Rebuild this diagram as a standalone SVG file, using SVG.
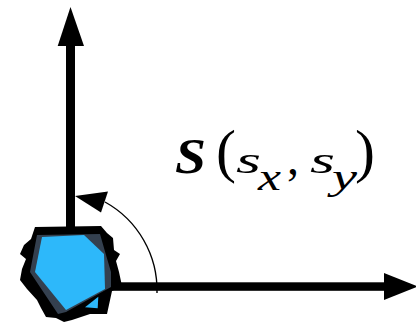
<svg xmlns="http://www.w3.org/2000/svg" width="416" height="322" viewBox="0 0 416 322">
<style>
.ax{fill:#000;stroke:none}
.it{font-family:"Liberation Serif",serif;font-style:italic;fill:#000}
.rm{font-family:"Liberation Serif",serif;fill:#000}
</style>
<rect width="416" height="322" fill="#fff"/>
<g id="axes">
<rect class="ax" x="66" y="44" width="9" height="190"/>
<polygon class="ax" points="70.5,7 57.7,46 84,46"/>
<rect class="ax" x="112" y="282.3" width="274" height="8.5"/>
<polygon class="ax" points="418,286.5 384,273 384,300"/>
</g>
<g id="body">
<polygon fill="#000" points="35,227 101,226 107,233 113,238 114,250 120,254 116,261 119,272 122,286 112,291 107,314 90,314 72,320 64,322 56,318 46,317 41,308 37,300 27,289 20,280 22,269 26,259 20,254 24,245 31,239"/>
<polygon fill="#34404f" points="37,235 100,234 106,255 111,272 111,287 66,312 58,314 30,272"/>
<polygon fill="#2db8fa" points="42,237 84,235 104,254 105,289 66,310 35,272"/>
<polygon fill="#2db8fa" points="85,307.3 98.3,296.7 97.7,308.3"/>
</g>
<g id="angle">
<path d="M157,293 A101,101 0 0 0 105,202" fill="none" stroke="#000" stroke-width="1.4"/>
<polygon fill="#000" points="75,196 108,191.5 101,212.5"/>
</g>
<g id="label">
<text class="it" x="175" y="173" font-size="50" font-weight="bold" textLength="31" lengthAdjust="spacingAndGlyphs">S</text>
<text class="rm" x="216" y="171" font-size="60">(</text>
<text class="it" x="236" y="173.3" font-size="37" textLength="25" lengthAdjust="spacingAndGlyphs">s</text>
<text class="it" x="258" y="190" font-size="37" textLength="23" lengthAdjust="spacingAndGlyphs">x</text>
<text class="rm" x="287" y="174" font-size="48">,</text>
<text class="it" x="310" y="173.3" font-size="37" textLength="25" lengthAdjust="spacingAndGlyphs">s</text>
<text class="it" x="332" y="189" font-size="36" textLength="25" lengthAdjust="spacingAndGlyphs">y</text>
<text class="rm" x="355" y="171" font-size="60">)</text>
</g>
</svg>
